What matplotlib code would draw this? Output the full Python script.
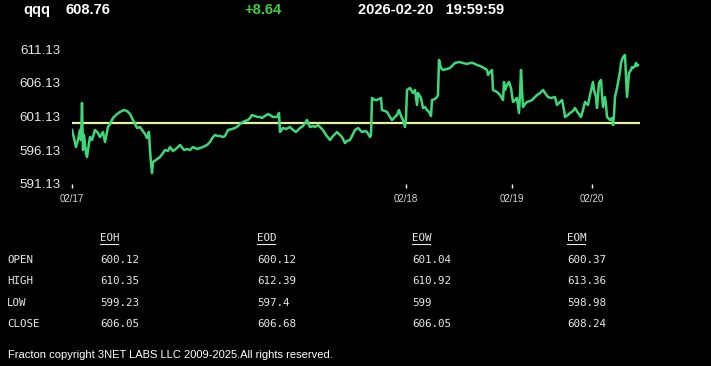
import matplotlib
matplotlib.use("Agg")
import matplotlib.pyplot as plt
from matplotlib.lines import Line2D

W, H = 711, 366

# bar index (minutes-ish, compressed sessions) and last price
bars = [0, 2, 4, 6, 8, 9, 10, 11, 12, 14, 15, 16, 18, 20, 23, 26, 28, 31, 33, 36,
        38, 41, 44, 48, 52, 55, 58, 60, 63, 65, 68, 70, 73, 75, 77, 78, 79, 80, 81, 84,
        88, 91, 93, 96, 98, 101, 105, 108, 112, 115, 118, 121, 125, 128, 131, 135, 138, 141, 143, 146,
        148, 151, 153, 156, 160, 163, 166, 168, 171, 173, 176, 178, 180, 183, 185, 188, 190, 193, 196, 198,
        201, 205, 207, 208, 211, 214, 216, 218, 221, 224, 228, 231, 233, 235, 238, 241, 243, 246, 248, 251,
        254, 258, 261, 265, 268, 270, 273, 275, 278, 281, 283, 286, 290, 293, 295, 298, 299, 300, 303, 305,
        309, 310, 313, 315, 318, 320, 323, 325, 327, 329, 331, 333, 334, 335, 338, 341, 343, 345, 346, 349,
        351, 353, 355, 357, 359, 360, 363, 365, 366, 367, 369, 371, 375, 378, 381, 383, 387, 391, 395, 398,
        401, 405, 408, 412, 415, 416, 418, 420, 421, 423, 425, 428, 431, 432, 433, 435, 437, 439, 441, 443,
        445, 447, 448, 449, 450, 451, 453, 455, 458, 460, 463, 465, 468, 471, 473, 476, 479, 483, 485, 488,
        490, 492, 493, 496, 498, 501, 503, 506, 509, 511, 513, 515, 516, 518, 521, 522, 524, 525, 526, 527,
        529, 530, 531, 533, 534, 535, 538, 540, 541, 542, 543, 545, 547, 548, 549, 551, 553, 554, 555, 556,
        557, 559, 560, 561, 563, 564, 565, 566]
price = [599.13, 597.94, 596.61, 597.65, 599.13, 597.65, 603.13, 596.17, 598.39, 595.72, 595.13, 596.17, 598.09, 597.65, 599.13, 598.69, 598.09, 598.83, 597.35, 599.57,
         600.02, 600.91, 601.35, 601.80, 602.09, 601.94, 601.50, 600.91, 600.02, 599.43, 599.57, 599.13, 598.54, 597.94, 598.83, 596.17, 594.24, 592.76, 594.39, 594.69,
         595.13, 595.72, 596.17, 596.02, 596.61, 596.02, 596.46, 596.91, 596.17, 596.31, 596.17, 596.61, 596.31, 596.46, 596.61, 596.91, 597.35, 598.09, 598.39, 598.24,
         598.24, 598.09, 598.24, 599.13, 599.28, 599.43, 599.72, 600.02, 600.31, 600.46, 600.61, 600.91, 601.35, 601.20, 601.06, 601.06, 600.91, 601.20, 601.50, 601.35,
         601.06, 601.06, 601.65, 598.83, 599.43, 599.28, 599.43, 599.57, 599.13, 598.83, 599.43, 599.72, 600.17, 600.61, 599.57, 599.72, 599.57, 599.87, 599.57, 599.13,
         598.39, 597.65, 598.24, 598.83, 598.39, 598.09, 597.20, 597.50, 597.65, 598.54, 599.13, 599.43, 598.83, 598.98, 598.83, 598.09, 598.39, 603.87, 603.57, 603.57,
         603.87, 602.09, 601.94, 601.80, 601.06, 600.61, 601.06, 601.35, 602.09, 601.20, 600.61, 599.57, 600.91, 605.06, 605.35, 604.61, 605.06, 602.83, 604.61, 603.87,
         602.39, 602.54, 602.09, 601.80, 601.20, 603.57, 603.72, 604.02, 604.31, 609.50, 608.32, 608.02, 608.17, 608.32, 608.76, 609.06, 609.20, 609.06, 608.91, 609.06,
         609.06, 608.76, 608.61, 608.32, 608.02, 607.28, 607.72, 608.02, 605.06, 604.91, 604.76, 604.31, 603.57, 606.24, 605.06, 605.80, 606.24, 605.35, 603.28, 603.57,
         603.87, 601.65, 604.31, 608.02, 605.06, 602.54, 602.98, 603.28, 603.43, 603.57, 604.02, 604.31, 604.61, 605.06, 604.61, 604.02, 603.87, 604.02, 602.83, 603.28,
         603.57, 602.09, 601.06, 601.35, 601.65, 601.94, 602.39, 601.65, 601.06, 602.09, 603.28, 602.98, 602.83, 604.31, 606.24, 605.06, 604.02, 602.39, 604.31, 606.09,
         606.54, 604.31, 602.54, 604.02, 602.83, 601.06, 600.61, 600.91, 599.87, 601.35, 604.02, 605.35, 606.98, 607.72, 609.06, 609.94, 610.24, 606.98, 604.02, 605.80,
         607.57, 608.02, 608.46, 608.32, 608.61, 609.06, 608.61, 608.76]
prev_close = 600.12

date_bars = [0, 334, 440, 520]
date_labels = ["02/17", "02/18", "02/19", "02/20"]
yticks = [591.13, 596.13, 601.13, 606.13, 611.13]

symbol = "qqq"
last = "608.76"
change = "+8.64"
stamp = "2026-02-20   19:59:59"

col_heads = ["EOH", "EOD", "EOW", "EOM"]
row_heads = ["OPEN", "HIGH", "LOW", "CLOSE"]
table = [["600.12", "600.12", "601.04", "600.37"],
         ["610.35", "612.39", "610.92", "613.36"],
         ["599.23", "597.4", "599", "598.98"],
         ["606.05", "606.68", "606.05", "608.24"]]

footer = "Fracton copyright 3NET LABS LLC 2009-2025.All rights reserved."


def fx(x):
    return x / W


def fy(y):
    return 1 - y / H


fig = plt.figure(figsize=(W / 100, H / 100), dpi=100, facecolor="black")

# chart area: x pixels 72..640, y pixels 49..184
ax = fig.add_axes([fx(72), fy(184), (640 - 72) / W, (184 - 49) / H], facecolor="black")
ax.plot(bars, price, color="#3ed878", lw=1.8, zorder=3)
ax.axhline(prev_close, color="#e4f0a4", lw=1.6, zorder=2)
ax.set_xlim(0, 568)
ax.set_ylim(591.13, 611.13)
for s in ax.spines.values():
    s.set_visible(False)
ax.set_yticks(yticks)
ax.set_yticklabels(["%.2f" % v for v in yticks], fontsize=9.6, color="#e8e8e8",
                   family="Liberation Sans")
ax.tick_params(axis="y", length=0, pad=8)
ax.set_xticks(date_bars)
ax.set_xticklabels(date_labels, fontsize=7, color="#d8d8d8", family="Liberation Sans")
ax.tick_params(axis="x", length=3, width=1, color="white", direction="out", pad=4)

# header
hdr = dict(fontsize=10.5, fontweight="bold", family="Liberation Sans", va="center")
fig.text(fx(23), fy(10), symbol, color="white", **hdr)
fig.text(fx(66), fy(10), last, color="white", **hdr)
fig.text(fx(244), fy(10), change, color="#3fcf3f", **hdr)
fig.text(fx(358), fy(10), stamp, color="white", **hdr)

# stats table
col_x = [100, 257, 412, 567]
row_y = [260, 281, 303, 324]
mono = dict(fontsize=7.8, family="DejaVu Sans Mono", color="#e8e8e8", va="center")
for cx, head in zip(col_x, col_heads):
    fig.text(fx(cx), fy(238), head, **mono)
    fig.add_artist(Line2D([fx(cx), fx(cx + 18)], [fy(244), fy(244)], color="#e8e8e8", lw=0.8))
for ry, rh, row in zip(row_y, row_heads, table):
    fig.text(fx(7), fy(ry), rh, **mono)
    for cx, val in zip(col_x, row):
        fig.text(fx(cx), fy(ry), val, **mono)

fig.text(fx(8), fy(355), footer, fontsize=8, family="Liberation Sans", color="white",
         va="center")

fig.savefig("out.png", dpi=100, facecolor="black")
